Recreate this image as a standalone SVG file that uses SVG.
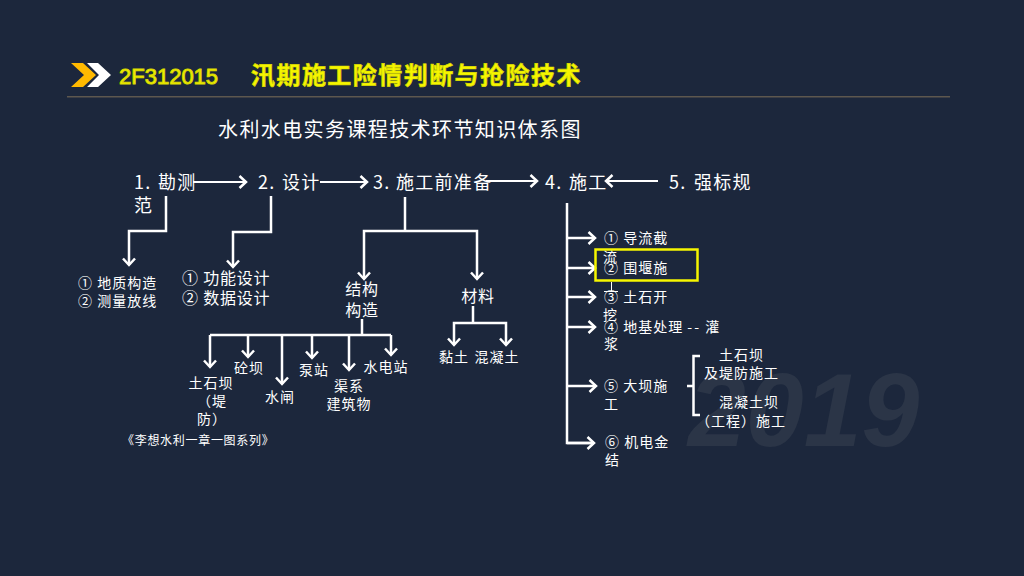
<svg xmlns="http://www.w3.org/2000/svg" width="1024" height="576" viewBox="0 0 1024 576">
<style>
text{font-family:"Noto Sans CJK SC","Liberation Sans",sans-serif;fill:#fff}
.h{font-size:18px;letter-spacing:1.3px}
.m{font-size:14px;letter-spacing:1px}
.s{font-size:16px;letter-spacing:.8px}
.c{text-anchor:middle}
.l{fill:none;stroke:#fff;stroke-width:2.5}
.t{fill:none;stroke:#fff;stroke-width:2;marker-end:url(#a)}
.w{fill:none;stroke:#fff;stroke-width:2.5;marker-end:url(#a)}
.y{stroke:#d8d800;stroke-width:.7}
</style>
<defs>
<marker id="a" markerUnits="userSpaceOnUse" markerWidth="16" markerHeight="16" refX="10" refY="8" orient="auto">
<path d="M3.500 2L10 8L3.500 14" fill="none" stroke="#fff" stroke-width="2.500"/>
</marker>
</defs>
<rect width="1024" height="576" fill="#1c273c"/>
<text x="688" y="446" font-size="104" font-style="italic" font-weight="700" style="font-family:'Liberation Sans',sans-serif;fill:#2b3547">2019</text>
<g id="header">
<path d="M71 63H83L96 75L83 87H71L84 75Z" fill="#ffb900"/>
<path d="M87 63H98L111 75L98 87H87L99 75Z" fill="#fff"/>
<text class="y" x="119" y="84" style="font-family:'Liberation Sans',sans-serif;font-size:22px;stroke-width:1px;fill:#f6f600">2F312015</text>
<text class="y" x="251" y="84" style="font-size:24px;font-weight:700;letter-spacing:1.450px;fill:#f6f600">汛期施工险情判断与抢险技术</text>
<rect x="67" y="96" width="883" height="1.500" fill="#5d574e"/>
</g>
<text x="218" y="137" style="font-size:20px;letter-spacing:1.400px">水利水电实务课程技术环节知识体系图</text>
<g id="connectors">
<path class="t" d="M193 182H246"/>
<path class="t" d="M320 182H367"/>
<path class="t" d="M486 181H537"/>
<path class="t" d="M658 181H606"/>
<path class="w" d="M166 196V231H129V265"/>
<path class="w" d="M271 196V232H233V267"/>
<path class="l" d="M405 197V231"/>
<path class="w" d="M405 231H364V279"/>
<path class="w" d="M405 231H477V279"/>
<path class="l" d="M473 306V323"/>
<path class="w" d="M473 323H454V345"/>
<path class="w" d="M473 323H506V345"/>
<path class="l" d="M362 319V335"/>
<path class="l" d="M210 335H391"/>
<path class="w" d="M210 335V367"/>
<path class="w" d="M248 335V357"/>
<path class="w" d="M282 335V384"/>
<path class="w" d="M312 335V358"/>
<path class="w" d="M349 335V370"/>
<path class="w" d="M391 335V355"/>
<path class="l" d="M567 203V443H594"/>
<path class="w" d="M567 238H595"/>
<path class="w" d="M567 268H595"/>
<path class="w" d="M567 297H595"/>
<path class="w" d="M567 327H595"/>
<path class="w" d="M567 386H596"/>
<path class="w" d="M567 443H594"/>
<path d="M611.500 282V292M604 291.500H618" fill="none" stroke="#fff" stroke-width="1"/>
<path class="l" d="M700 356H693.500V415H700M687 386H693.500"/>
</g>
<g id="n1"><text class="h" x="134" y="189">1. <tspan dx="1">勘测</tspan></text><text class="h" x="134" y="212">范</text></g>
<g id="n2"><text class="h" x="258" y="189">2. <tspan dx="1">设计</tspan></text></g>
<g id="n3"><text class="h" x="373" y="189">3. 施工前准备</text></g>
<g id="n4"><text class="h" x="545" y="189">4. <tspan dx="1">施工</tspan></text></g>
<g id="n5"><text class="h" x="669" y="189">5. <tspan dx="2">强标规</tspan></text></g>
<g id="n1a"><text class="m" x="78" y="288">① 地质构造</text><text class="m" x="78" y="306">② 测量放线</text></g>
<g id="n2a"><text class="s" x="182" y="284">① 功能设计</text><text class="s" x="182" y="304">② 数据设计</text></g>
<g id="n3a"><text class="s c" x="362" y="295">结构</text><text class="s c" x="362" y="316">构造</text></g>
<g id="n3b"><text class="s c" x="478" y="302">材料</text></g>
<g id="n3c"><text class="m c" x="454" y="362">黏土</text></g>
<g id="n3d"><text class="m c" x="497" y="362">混凝土</text></g>
<g id="b1"><text class="m c" x="211" y="388">土石坝</text><text class="m c" x="212" y="406">（堤</text><text class="m c" x="212" y="424">防）</text></g>
<g id="b2"><text class="m c" x="249" y="373">砼坝</text></g>
<g id="b3"><text class="m c" x="280" y="402">水闸</text></g>
<g id="b4"><text class="m c" x="314" y="375">泵站</text></g>
<g id="b5"><text class="m c" x="349" y="391">渠系</text><text class="m c" x="349" y="409">建筑物</text></g>
<g id="b6"><text class="m c" x="386" y="372">水电站</text></g>
<text x="122" y="445" style="font-size:12px;letter-spacing:.7px">《李想水利一章一图系列》</text>
<g id="s1"><text class="m" x="604" y="243">① 导流截</text><text class="m" x="603" y="262">流</text></g>
<g id="s2"><rect x="595.500" y="249.500" width="102" height="31" fill="none" stroke="#f6f600" stroke-width="2.500"/><text class="m" x="604" y="273">② 围堰施</text></g>
<g id="s3"><text class="m" x="604" y="302">③ 土石开</text><text class="m" x="603" y="320">挖</text></g>
<g id="s4"><text class="m" x="604" y="332">④ 地基处理 <tspan style="letter-spacing:2px">--</tspan> 灌</text><text class="m" x="604" y="349">浆</text></g>
<g id="s5"><text class="m" x="604" y="391">⑤ 大坝施</text><text class="m" x="604" y="409">工</text></g>
<g id="s6"><text class="m" x="605" y="447">⑥ 机电金</text><text class="m" x="605" y="465">结</text></g>
<g id="d1"><text class="m" x="719" y="360">土石坝</text><text class="m" x="704" y="378">及堤防施工</text></g>
<g id="d2"><text class="m" x="719" y="407">混凝土坝</text><text class="m" x="696" y="426">（工程）施工</text></g>
</svg>
